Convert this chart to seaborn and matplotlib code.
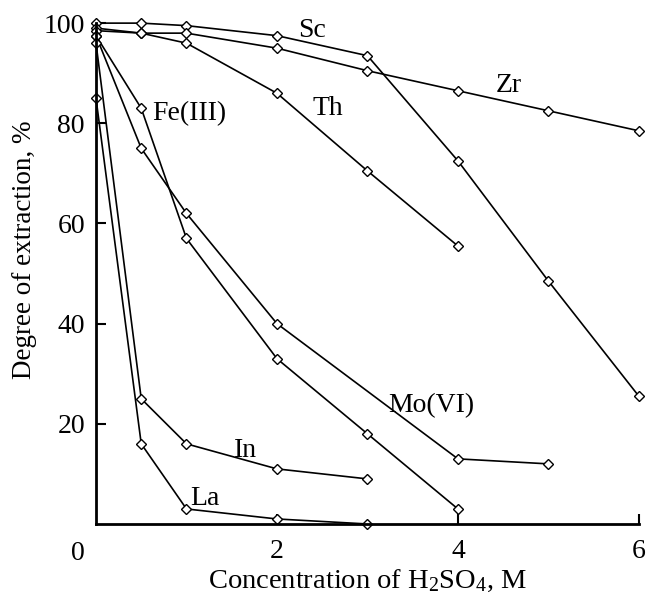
import matplotlib
matplotlib.use("Agg")
import matplotlib.pyplot as plt
import numpy as np
import pandas as pd
import seaborn as sns

# datos: grado de extraccion (%) vs concentracion de H2SO4 (M)
sc_x = [0, 0.5, 1, 2, 3, 4, 5, 6]
sc_y = [100, 100, 99.5, 97.5, 93.5, 72.5, 48.5, 25.5]
zr_x = [0, 0.5, 1, 2, 3, 4, 5, 6]
zr_y = [99, 98, 98, 95, 90.5, 86.5, 82.5, 78.5]
th_x = [0, 0.5, 1, 2, 3, 4]
th_y = [98.5, 98, 96, 86, 70.5, 55.5]
fe_x = [0, 0.5, 1, 2, 3, 4]
fe_y = [97.5, 83, 57, 33, 18, 3]
mo_x = [0, 0.5, 1, 2, 4, 5]
mo_y = [97.5, 75, 62, 40, 13, 12]
in_x = [0, 0.5, 1, 2, 3]
in_y = [96, 25, 16, 11, 9]
la_x = [0, 0.5, 1, 2, 3]
la_y = [85, 16, 3, 1, 0]

metales = ["Sc", "Zr", "Th", "Fe(III)", "Mo(VI)", "In", "La"]
series_x = [sc_x, zr_x, th_x, fe_x, mo_x, in_x, la_x]
series_y = [sc_y, zr_y, th_y, fe_y, mo_y, in_y, la_y]

# posiciones de las etiquetas (x, y)
etiquetas_pos = [(2.23, 98.6), (4.42, 87.6), (2.39, 83), (0.62, 82),
                 (3.23, 23.6), (1.52, 14.6), (1.04, 5)]

filas = []
for m, xs, ys in zip(metales, series_x, series_y):
    for x, y in zip(xs, ys):
        filas.append({"metal": m, "conc": x, "ext": y})
df = pd.DataFrame(filas)

sns.set_style("ticks")
plt.rcParams["font.family"] = "serif"
plt.rcParams["font.serif"] = ["Liberation Serif", "DejaVu Serif"]
plt.rcParams["mathtext.fontset"] = "custom"
plt.rcParams["mathtext.rm"] = "Liberation Serif"
plt.rcParams["mathtext.it"] = "Liberation Serif:italic"
plt.rcParams["text.color"] = "black"
plt.rcParams["axes.labelcolor"] = "black"
plt.rcParams["axes.edgecolor"] = "black"
plt.rcParams["xtick.color"] = "black"
plt.rcParams["ytick.color"] = "black"

fs = 20

fig = plt.figure(figsize=(6.46, 5.93), dpi=100)
ax = fig.add_axes([0.1486, 0.1164, 0.989 - 0.1486, 0.961 - 0.1164])

sns.lineplot(data=df, x="conc", y="ext", hue="metal", units="metal",
             estimator=None, sort=False, palette=["black"] * len(metales),
             marker="D", markersize=5, markerfacecolor="white",
             markeredgecolor="black", markeredgewidth=1.0,
             linewidth=1.2, legend=False, clip_on=False, ax=ax)

for m, (tx, ty) in zip(metales, etiquetas_pos):
    ax.text(tx, ty, m, fontsize=fs, ha="left", va="center")

ax.set_xlim(0, 6)
ax.set_ylim(0, 100)
ax.set_xticks([2, 4, 6])
ax.set_yticks([20, 40, 60, 80, 100])
ax.tick_params(direction="in", length=7, width=1.5, labelsize=fs)
ax.tick_params(axis="x", pad=11)
ax.tick_params(axis="y", pad=8)
ax.text(-0.2, -5.8, "0", fontsize=fs, ha="center", va="center")

for s in ["top", "right"]:
    ax.spines[s].set_visible(False)
for s in ["left", "bottom"]:
    ax.spines[s].set_linewidth(2)

ax.set_xlabel("Concentration of H$_2$SO$_4$, M", fontsize=20.5)
ax.set_ylabel("Degree of extraction, %", fontsize=19.5)
ax.xaxis.set_label_coords(0.5, -0.088)
ax.yaxis.set_label_coords(-0.109, 0.547)

fig.savefig("out.png", dpi=100)
